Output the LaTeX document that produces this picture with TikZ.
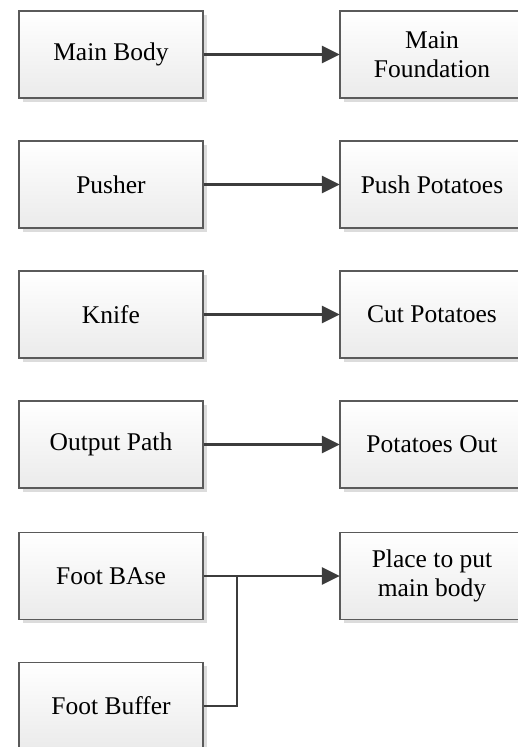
\documentclass[tikz,border=0pt]{standalone}
\usepackage{fontspec}
\setmainfont{Liberation Serif}
\usetikzlibrary{shadows,arrows.meta}
\definecolor{boxline}{HTML}{5A5A5A}
\definecolor{conn}{HTML}{3C3C3C}
\definecolor{shadowgray}{HTML}{DCDCDC}
\tikzset{
  boxnode/.style={draw=boxline, line width=1.3pt, rectangle,
    top color=white, bottom color=black!8,
    minimum width=184pt, minimum height=87pt, inner sep=0pt,
    align=center, font=\fontsize{25.5}{29}\selectfont,
    drop shadow={shadow xshift=3.5pt, shadow yshift=-3.5pt, fill=shadowgray, opacity=1}},
  conline/.style={draw=conn, line width=2.5pt},
  conarrow/.style={conline, -{Triangle[length=18pt,width=17pt]}, shorten >=-0.5pt}
}
\begin{document}
\begin{tikzpicture}[x=1pt,y=-1pt]
\path[use as bounding box, clip] (0,0) rectangle (518,747);
\node[boxnode] (mb)  at (111,54.5) {Main Body};
\node[boxnode] (mf)  at (432,54.5) {Main\\Foundation};
\node[boxnode] (pu)  at (111,184.5) {Pusher};
\node[boxnode] (pp)  at (432,184.5) {Push Potatoes};
\node[boxnode] (kn)  at (111,314.5) {Knife};
\node[boxnode] (cp)  at (432,314.5) {Cut Potatoes};
\node[boxnode] (op)  at (111,444.5) {Output Path};
\node[boxnode] (po)  at (432,444.5) {Potatoes Out};
\node[boxnode] (fb)  at (111,576) {Foot BAse};
\node[boxnode] (pl)  at (432,576) {Place to put\\main body};
\node[boxnode] (fbu) at (111,706) {Foot Buffer};
\coordinate (j) at (237,576);
\draw[conarrow] (mb.east) -- (mf.west);
\draw[conarrow] (pu.east) -- (pp.west);
\draw[conarrow] (kn.east) -- (cp.west);
\draw[conarrow] (op.east) -- (po.west);
\draw[conarrow] (fb.east) -- (pl.west);
\draw[conline] (fbu.east) -| (j);
\end{tikzpicture}
\end{document}
